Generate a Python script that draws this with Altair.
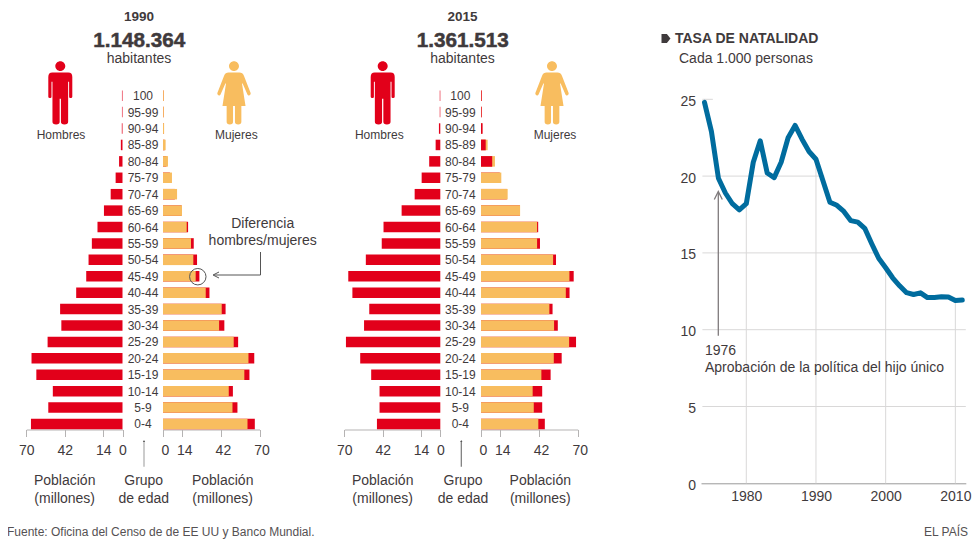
import altair as alt
import pandas as pd

AGES = ["100","95-99","90-94","85-89","80-84","75-79","70-74","65-69","60-64","55-59","50-54",
        "45-49","40-44","35-39","30-34","25-29","20-24","15-19","10-14","5-9","0-4"]
MEN_1990 = [0.4,0.4,0.5,1.2,2.5,5.0,8.6,13.5,18.2,22.3,24.7,26.4,33.7,45.4,44.5,54.5,66.2,62.7,50.7,54.0,66.6]
WOMEN_1990 = [0.6,0.6,0.8,1.9,3.6,6.5,10.2,13.8,17.2,20.3,22.0,23.7,31.0,42.6,40.7,51.3,62.0,59.0,47.7,50.4,61.3]
MEN_2015 = [0.4,0.4,1.0,3.4,8.1,13.6,18.7,28.2,41.4,42.7,54.3,67.1,64.1,51.8,55.6,68.8,58.4,50.4,44.3,44.3,46.2]
WOMEN_2015 = [0.3,0.3,0.8,4.8,10.1,14.7,19.3,28.3,40.6,40.6,52.2,64.0,61.4,49.5,52.9,63.8,52.7,43.7,37.4,38.2,41.5]
RED_FRONT_2015 = ["100","95-99","90-94","85-89","80-84"]
TICKS = [70,42,14,0]
YEARS = list(range(1974,2012))
BIRTHS = [24.8,22.9,19.86,18.9,18.2,17.8,18.2,20.9,22.3,20.2,19.9,20.9,22.5,23.3,22.4,21.6,21.1,19.7,18.3,18.1,
          17.7,17.1,17.0,16.6,15.6,14.65,14.03,13.38,12.86,12.41,12.29,12.4,12.09,12.1,12.14,12.13,11.9,11.93]
GRID_YEARS = [1980,1990,2000,2010]
GRID_YEAR_TOPS = [18.2,21.1,14.03,11.9]
GRID_LEVELS = [25,20,15,10,5]
GRID_LEVEL_ENDS = [1975.2,1991.2,1999.0,2011.5,2011.5]

RED = "#e2001a"; ORANGE = "#f8bd5f"; TEXT = "#3f3a3c"; BLUE = "#006c9e"; GRID = "#d9d8d8"; AX = "#b5b3b3"
FONT = "Liberation Sans"
O = 8
W, H = 964, 534
ONE = alt.Data(values=[{"a":1}])

MAN = ("M-0.156 -0.84A0.156 0.156 0 1 1 0.156 -0.84A0.156 0.156 0 1 1 -0.156 -0.84Z"
       "M-0.25 -0.64L0.25 -0.64Q0.375 -0.64 0.375 -0.5L0.375 0.12Q0.375 0.16 0.33 0.16L0.31 0.16Q0.275 0.16 0.275 0.12"
       "L0.275 -0.35L0.245 -0.35L0.245 0.9Q0.245 0.985 0.13 0.985Q0.02 0.985 0.02 0.9L0.02 0.18L-0.02 0.18L-0.02 0.9"
       "Q-0.02 0.985 -0.13 0.985Q-0.245 0.985 -0.245 0.9L-0.245 -0.35L-0.275 -0.35L-0.275 0.12Q-0.275 0.16 -0.31 0.16"
       "L-0.33 0.16Q-0.375 0.16 -0.375 0.12L-0.375 -0.5Q-0.375 -0.64 -0.25 -0.64Z")
WOMAN = ("M-0.156 -0.84A0.156 0.156 0 1 1 0.156 -0.84A0.156 0.156 0 1 1 -0.156 -0.84Z"
         "M-0.17 -0.64L0.17 -0.64Q0.27 -0.64 0.31 -0.54L0.52 0.0Q0.53 0.04 0.5 0.06L0.47 0.08Q0.44 0.09 0.42 0.05"
         "L0.27 -0.3L0.25 -0.3L0.36 0.41L0.23 0.41L0.23 0.9Q0.23 0.985 0.13 0.985Q0.03 0.985 0.03 0.9L0.03 0.41L-0.03 0.41"
         "L-0.03 0.9Q-0.03 0.985 -0.13 0.985Q-0.23 0.985 -0.23 0.9L-0.23 0.41L-0.36 0.41L-0.25 -0.3L-0.27 -0.3L-0.42 0.05"
         "Q-0.44 0.09 -0.47 0.08L-0.5 0.06Q-0.53 0.04 -0.52 0.0L-0.31 -0.54Q-0.27 -0.64 -0.17 -0.64Z")
BULLET = "M-1 -1L0.2 -1L1 0L0.2 1L-1 1Z"
OPEN_UP = "M-1 1L0 -1L1 1"
OPEN_LEFT = "M1 -1L-1 0L1 1"


def txt(x, y, s, size=14, bold=False, align="center", color=TEXT, stroke=0):
    kw = {"stroke": color, "strokeWidth": stroke} if stroke else {}
    return alt.Chart(ONE).mark_text(font=FONT, fontSize=size, fontWeight="bold" if bold else "normal",
                                    align=align, baseline="middle", color=color, **kw).encode(
        x=alt.value(x - O), y=alt.value(y + 1 - O), text=alt.value(s))


def vrule(x, y1, y2, color=AX, w=1.0):
    return alt.Chart(ONE).mark_rule(color=color, strokeWidth=w).encode(
        x=alt.value(x - O), y=alt.value(y1 - O), y2=alt.value(y2 - O))


def hrule(x1, x2, y, color=AX, w=1.0):
    return alt.Chart(ONE).mark_rule(color=color, strokeWidth=w).encode(
        x=alt.value(x1 - O), x2=alt.value(x2 - O), y=alt.value(y - O))


def glyph(x, y, path, size, color, filled=True, w=1.0):
    return alt.Chart(ONE).mark_point(shape=path, size=size, filled=filled, color=color, opacity=1,
                                     strokeWidth=w).encode(x=alt.value(x - O), y=alt.value(y - O))


SY_AGE = alt.Scale(domain=AGES, range=[95.7 - 8.2 - O, 424 + 8.2 - O], paddingInner=0, paddingOuter=0)
Y_AGE = alt.Y("age:N", scale=SY_AGE, axis=None)
AXIS_Y = 429.5


def pyramid(men, women, left0, left70, right0, right70, center, front=()):
    df = pd.DataFrame({"age": AGES, "men": men, "women": women, "zero": [0] * len(AGES)})
    sl = alt.Scale(domain=[70, 0], range=[left70 - O, left0 - O], nice=False, zero=False)
    sr = alt.Scale(domain=[0, 70], range=[right0 - O, right70 - O], nice=False, zero=False)
    def axis(off):
        return alt.Axis(values=TICKS, title=None, orient="bottom", offset=AXIS_Y - O - H, grid=False,
                        domainColor=AX, tickColor=AX, tickSize=7, labelPadding=7, labelFont=FONT,
                        labelFontSize=14, labelColor=TEXT, labelOffset=off, labelFlush=False,
                        labelOverlap=False, format="d")
    out = [
        alt.Chart(df).mark_bar(color=RED, size=10.5).encode(
            x=alt.X("men:Q", scale=sl, axis=axis(0), stack=None), x2="zero:Q", y=Y_AGE),
        alt.Chart(df).mark_bar(color=RED, size=10.5).encode(
            x=alt.X("men:Q", scale=sr, axis=axis(2), stack=None), x2="zero:Q", y=Y_AGE),
        alt.Chart(df).mark_bar(color=ORANGE, size=10.5).encode(
            x=alt.X("women:Q", scale=sr, axis=None, stack=None), x2="zero:Q", y=Y_AGE),
    ]
    if front:
        out.append(alt.Chart(df[df.age.isin(front)]).mark_bar(color=RED, size=10.5).encode(
            x=alt.X("men:Q", scale=sr, axis=None, stack=None), x2="zero:Q", y=Y_AGE))
    out.append(alt.Chart(df).mark_text(font=FONT, fontSize=12, color=TEXT, baseline="middle", align="center", dy=0.5).encode(
        x=alt.value(center - O), y=Y_AGE, text="age:N"))
    return out


# --- birth rate
birth = pd.DataFrame({"year": YEARS, "v": BIRTHS})
SX_L = alt.Scale(domain=[1973.5, 2011.5], range=[693.0, 957.8], nice=False, zero=False)
SY_L = alt.Scale(domain=[0, 25], range=[475.3, 91.3], nice=False, zero=False)
gx = pd.DataFrame({"year": GRID_YEARS, "top": GRID_YEAR_TOPS, "zero": [0] * 4})
gy = pd.DataFrame({"level": GRID_LEVELS, "start": [1973.7] * 5, "end": GRID_LEVEL_ENDS})

line_layers = [
    alt.Chart(gy).mark_rule(color=GRID, strokeWidth=1).encode(
        x=alt.X("start:Q", scale=SX_L, axis=None), x2="end:Q",
        y=alt.Y("level:Q", scale=SY_L, axis=alt.Axis(values=[25, 20, 15, 10, 5, 0], title=None, orient="left",
                offset=-(700.5 - O), domain=False, ticks=False, grid=False, labelPadding=5, labelFont=FONT,
                labelFontSize=14, labelColor=TEXT, labelOffset=2, labelFlush=False, labelOverlap=False))),
    alt.Chart(gx).mark_rule(color=GRID, strokeWidth=1).encode(
        x=alt.X("year:Q", scale=SX_L, axis=alt.Axis(values=GRID_YEARS, title=None, orient="bottom",
                offset=483.3 - O - H, domainColor="#999999", ticks=False, grid=False, labelPadding=6, labelFont=FONT,
                labelFontSize=14, labelColor=TEXT, labelFlush=False, labelOverlap=False, format="d")),
        y=alt.Y("top:Q", scale=SY_L, axis=None), y2="zero:Q"),
    alt.Chart(birth).mark_line(color=BLUE, strokeWidth=5, strokeJoin="round", strokeCap="round").encode(
        x=alt.X("year:Q", scale=SX_L, axis=None), y=alt.Y("v:Q", scale=SY_L, axis=None)),
    vrule(718.3, 335.7, 193, "#7f7a7c", 1.3),
    glyph(718.3, 195.5, OPEN_UP, 64, "#7f7a7c", False, 1.3),
    glyph(666, 38.5, BULLET, 80, TEXT),
    txt(675, 38.3, "TASA DE NATALIDAD", 14, True, "left"),
    txt(679, 58.3, "Cada 1.000 personas", 14, False, "left"),
    txt(705, 350, "1976", 14, False, "left"),
    txt(705, 367.3, "Aprobación de la política del hijo único", 14, False, "left"),
]

notes = []
for yr, total, cx, man_x, wom_x, hom_x, muj_x, pl, ge, pr, arrow_x, arrow_c in [
    ("1990", "1.148.364", 139, 60.3, 234, 61, 236.3, 64.7, 143.7, 222.7, 144, "#aaaaaa"),
    ("2015", "1.361.513", 462.5, 382.7, 552, 379.3, 555, 382.7, 463, 540.3, 461.3, "#777777"),
]:
    notes += [
        txt(cx, 16, yr, 13.5, True),
        txt(cx + 0.3, 40, total, 20.7, True, stroke=0.5),
        txt(cx, 58, "habitantes"),
        glyph(man_x, 93, MAN, 4096, RED),
        glyph(wom_x, 93, WOMAN, 4096, ORANGE),
        txt(hom_x, 133.7, "Hombres", 12),
        txt(muj_x, 133.7, "Mujeres", 12),
        txt(pl, 480, "Población"), txt(pl, 498.3, "(millones)"),
        txt(ge, 480, "Grupo"), txt(ge, 498.3, "de edad"),
        txt(pr, 480, "Población"), txt(pr, 498.3, "(millones)"),
        vrule(arrow_x, 466.7, 441, arrow_c, 1.2),
        glyph(arrow_x, 441, "M-1 1L0 -1L1 1Z", 5, "#555555"),
    ]

notes += [
    alt.Chart(ONE).mark_circle(size=270, filled=False, color="#555555", opacity=1, strokeWidth=1).encode(
        x=alt.value(197.8 - O), y=alt.value(276.7 - O)),
    vrule(260.5, 252, 275, "#555555"),
    hrule(214, 260.5, 275, "#555555"),
    glyph(216, 275, OPEN_LEFT, 36, "#555555", False),
    txt(262.7, 223.3, "Diferencia"),
    txt(262.7, 240, "hombres/mujeres"),
    txt(7, 530.7, "Fuente: Oficina del Censo de de EE UU y Banco Mundial.", 12, False, "left", "#555153"),
    txt(968, 530.7, "EL PAÍS", 12, False, "right", "#555153"),
]

layers = line_layers
layers += pyramid(MEN_1990, WOMEN_1990, 122.5, 26.3, 163, 259.5, 143)
layers += pyramid(MEN_2015, WOMEN_2015, 440.3, 344.3, 481, 577.7, 460.3, RED_FRONT_2015)
layers += notes

chart = alt.layer(*layers).resolve_scale(x="independent", y="independent").properties(
    width=W, height=H, padding=0, autosize=alt.AutoSizeParams(type="none", contains="content"),
    background="white",
).configure_view(stroke=None)

chart.save("out.html", embed_options={"renderer": "svg", "actions": False})
